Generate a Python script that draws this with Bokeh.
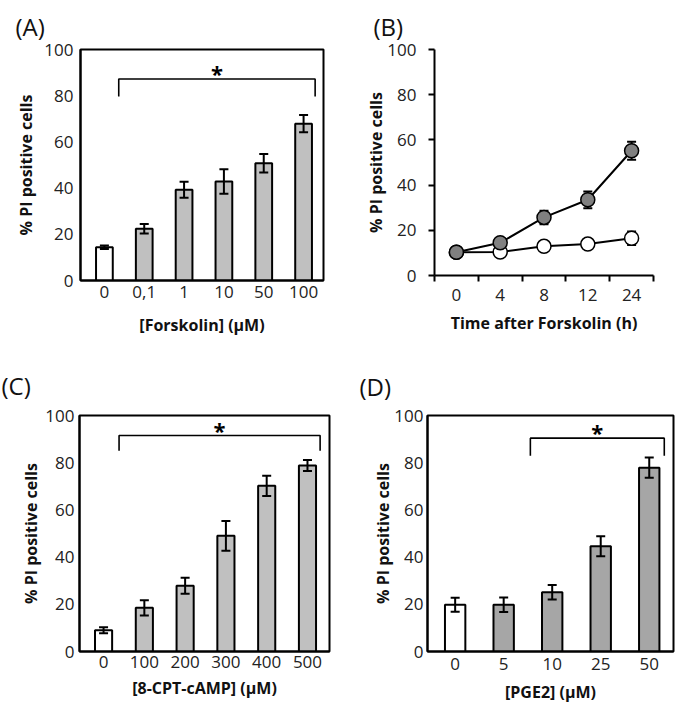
from bokeh.plotting import figure
from bokeh.layouts import column, row
from bokeh.models import ColumnDataSource, Whisker, TeeHead, FixedTicker, Range1d
from bokeh.core.properties import value
from bokeh.embed import file_html
from bokeh.resources import INLINE

FONT = "Open Sans"

# ---------------- data ----------------
# (A) Forskolin dose
a_labels = ["0", "0,1", "1", "10", "50", "100"]
a_values = [14.4, 22.4, 39.3, 42.9, 50.8, 67.9]
a_errors = [0.8, 2.1, 3.5, 5.3, 4.0, 3.7]
a_colors = ["#ffffff", "#c0c0c0", "#c0c0c0", "#c0c0c0", "#c0c0c0", "#c0c0c0"]
a_bracket_x = [0.36, 5.29]
a_bracket_y = [79.6, 87.2]

# (B) time course
b_labels = ["0", "4", "8", "12", "24"]
b_forskolin = [10.3, 14.5, 25.7, 33.5, 55.2]
b_forskolin_err = [0.8, 1.0, 3.0, 3.7, 4.0]
b_control = [10.3, 10.4, 12.9, 13.9, 16.5]
b_control_err = [0.8, 0.8, 1.5, 2.0, 3.0]

# (C) 8-CPT-cAMP dose
c_labels = ["0", "100", "200", "300", "400", "500"]
c_values = [9.0, 18.5, 27.9, 49.0, 70.2, 78.8]
c_errors = [1.3, 3.2, 3.4, 6.3, 4.3, 2.3]
c_colors = ["#ffffff", "#c0c0c0", "#c0c0c0", "#c0c0c0", "#c0c0c0", "#c0c0c0"]
c_bracket_x = [0.38, 5.31]
c_bracket_y = [85.1, 91.5]

# (D) PGE2 dose
d_labels = ["0", "5", "10", "25", "50"]
d_values = [19.8, 19.8, 25.1, 44.6, 77.9]
d_errors = [3.0, 3.1, 3.1, 4.2, 4.3]
d_colors = ["#ffffff", "#a6a6a6", "#a6a6a6", "#a6a6a6", "#a6a6a6"]
d_bracket_x = [1.55, 4.31]
d_bracket_y = [82.9, 90.4]

y_ticks = [0, 20, 40, 60, 80, 100]
y_title = "% PI positive cells"


def style_axes(p, xlabel, y_standoff, x_standoff, ylab_standoff, xlab_standoff):
    for ax in (p.xaxis[0], p.yaxis[0]):
        ax.major_label_text_font = FONT
        ax.major_label_text_font_size = "17px"
        ax.major_label_text_color = "#222222"
        ax.axis_label_text_font = FONT
        ax.axis_label_text_font_size = "16px"
        ax.axis_label_text_font_style = "bold"
        ax.axis_label_text_color = "#111111"
        ax.axis_line_color = "black"
        ax.axis_line_width = 2
        ax.minor_tick_line_color = None
    p.yaxis[0].axis_label = y_title
    p.xaxis[0].axis_label = xlabel
    p.yaxis[0].major_label_standoff = y_standoff
    p.xaxis[0].major_label_standoff = x_standoff
    p.yaxis[0].axis_label_standoff = ylab_standoff
    p.xaxis[0].axis_label_standoff = xlab_standoff
    p.yaxis[0].ticker = FixedTicker(ticks=y_ticks)
    p.xgrid.grid_line_color = None
    p.ygrid.grid_line_color = None


def set_title(p, letter, offset, standoff):
    p.title.text = letter
    p.title.text_font = FONT
    p.title.text_font_size = "24px"
    p.title.text_font_style = "normal"
    p.title.text_color = "#111111"
    p.title.align = "left"
    p.title.offset = offset
    p.title.standoff = standoff


def bar_panel(labels, values, errors, colors, bx, by, xlabel, letter, fw, fh,
              borders, xr, toff, tstand, stds):
    left, right, top, bottom = borders
    p = figure(frame_width=fw, frame_height=fh, output_backend="svg",
               toolbar_location=None,
               x_range=Range1d(*xr), y_range=Range1d(0, 100),
               min_border_left=left, min_border_right=right,
               min_border_top=top, min_border_bottom=bottom)
    xs = list(range(len(values)))
    src = ColumnDataSource(dict(
        x=xs, top=values, color=colors,
        upper=[v + e for v, e in zip(values, errors)],
        lower=[v - e for v, e in zip(values, errors)]))
    p.vbar(x="x", top="top", width=0.42, bottom=0, fill_color="color",
           line_color="black", line_width=2, source=src)
    wk = Whisker(base="x", upper="upper", lower="lower", source=src,
                 line_color="black", line_width=2, level="overlay",
                 upper_head=TeeHead(size=9, line_width=2, line_color="black"),
                 lower_head=TeeHead(size=9, line_width=2, line_color="black"))
    p.add_layout(wk)
    # significance bracket
    p.line(x=[bx[0], bx[0], bx[1], bx[1]], y=[by[0], by[1], by[1], by[0]],
           line_color="black", line_width=1.6)
    p.text(x=[(bx[0] + bx[1]) / 2], y=[by[1] + 2.5], text=["*"],
           text_align="center", text_baseline="middle",
           text_font=value(FONT), text_font_style="bold", text_font_size="22px",
           text_color="black")
    p.xaxis[0].ticker = FixedTicker(ticks=xs)
    p.xaxis[0].major_label_overrides = {i: l for i, l in enumerate(labels)}
    for ax in (p.xaxis[0], p.yaxis[0]):
        ax.major_tick_out = 0
        ax.major_tick_in = 0
    p.outline_line_color = "black"
    p.outline_line_width = 2
    p.outline_line_alpha = 1
    style_axes(p, xlabel, *stds)
    set_title(p, letter, toff, tstand)
    return p


pA = bar_panel(a_labels, a_values, a_errors, a_colors, a_bracket_x, a_bracket_y,
               "[Forskolin] (\u00b5M)", "(A)", 243, 231, (80, 17, 48, 71),
               (-0.6, 5.5), -65, 14, (7, 5, 4, 13))

# ---------------- (B) ----------------
pB = figure(frame_width=219, frame_height=226, output_backend="svg",
            toolbar_location=None,
            x_range=Range1d(-0.5, 4.5), y_range=Range1d(0, 100),
            min_border_left=94, min_border_right=24,
            min_border_top=48, min_border_bottom=76)
bx = list(range(len(b_labels)))
src_c = ColumnDataSource(dict(x=bx, y=b_control,
                              upper=[v + e for v, e in zip(b_control, b_control_err)],
                              lower=[v - e for v, e in zip(b_control, b_control_err)]))
src_f = ColumnDataSource(dict(x=bx, y=b_forskolin,
                              upper=[v + e for v, e in zip(b_forskolin, b_forskolin_err)],
                              lower=[v - e for v, e in zip(b_forskolin, b_forskolin_err)]))
for src, fill in ((src_c, "#ffffff"), (src_f, "#808080")):
    pB.add_layout(Whisker(base="x", upper="upper", lower="lower", source=src,
                          line_color="black", line_width=2,
                          upper_head=TeeHead(size=9, line_width=2, line_color="black"),
                          lower_head=TeeHead(size=9, line_width=2, line_color="black")))
    pB.line(x="x", y="y", source=src, line_color="black", line_width=2)
    pB.scatter(x="x", y="y", source=src, size=14, fill_color=fill,
               line_color="black", line_width=1.5)
pB.xaxis[0].ticker = FixedTicker(ticks=bx, minor_ticks=[-0.5, 0.5, 1.5, 2.5, 3.5, 4.5])
pB.xaxis[0].major_label_overrides = {i: l for i, l in enumerate(b_labels)}
pB.xaxis[0].major_tick_out = 0
pB.xaxis[0].major_tick_in = 0
pB.yaxis[0].major_tick_out = 6
pB.yaxis[0].major_tick_in = 0
pB.outline_line_color = None
style_axes(pB, "Time after Forskolin (h)", 12, 7, -3, 8)
pB.xaxis[0].minor_tick_line_color = "black"
pB.xaxis[0].minor_tick_line_width = 2
pB.xaxis[0].minor_tick_out = 6
pB.xaxis[0].minor_tick_in = 0
pB.yaxis[0].major_tick_line_width = 2
set_title(pB, "(B)", -61, 14)

pC = bar_panel(c_labels, c_values, c_errors, c_colors, c_bracket_x, c_bracket_y,
               "[8-CPT-cAMP] (\u00b5M)", "(C)", 250, 236, (79, 11, 64, 60),
               (-0.59, 5.54), -78, 28, (5, 4, 0, 6))

pD = bar_panel(d_labels, d_values, d_errors, d_colors, d_bracket_x, d_bracket_y,
               "[PGE2] (\u00b5M)", "(D)", 246, 236, (87, 4, 62, 60),
               (-0.57, 4.5), -68, 26, (4, 6, -3, 8))

layout = column(row(pA, pB), row(pC, pD))
open("out.html", "w").write(file_html(layout, INLINE))
